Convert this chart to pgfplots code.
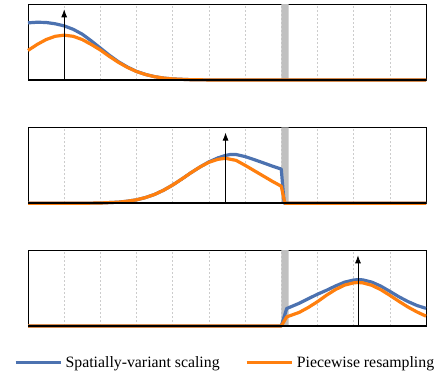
\documentclass[border=0pt]{standalone}
\usepackage{pgfplots}
\pgfplotsset{compat=1.18}
\usepackage{fontspec}
\setmainfont{Liberation Serif}
\usetikzlibrary{arrows.meta}
\definecolor{cblue}{HTML}{4C72B0}
\definecolor{corange}{HTML}{FF7F0E}
\definecolor{band}{HTML}{C0C0C0}
\pgfplotsset{
  panel/.style={
    scale only axis, width=398pt, height=76pt,
    xmin=0, xmax=11, ymin=0, ymax=1,
    xtick={1,...,10}, xticklabels={}, ytick=\empty,
    major tick length=0pt,
    xmajorgrids, major grid style={gray!40, dash pattern=on 2pt off 2pt, line width=0.6pt},
    axis line style={black, line width=0.8pt},
    clip=false, anchor=north west,
  },
  bl/.style={cblue, line width=3.2pt, line join=round},
  og/.style={corange, line width=3.2pt, line join=round},
  arr/.style={black, line width=0.8pt, -{Latex[length=8pt,width=6pt]}},
  bnd/.style={fill=band, draw=none, forget plot},
  base/.style={black, line width=2pt, forget plot},
}
\begin{document}
\begin{tikzpicture}
\useasboundingbox (0pt,0pt) rectangle (438pt,-376pt);
% panel 1
\begin{axis}[panel, at={(28pt,-4pt)}]
\addplot[bnd] coordinates {(7,0) (7,1) (7.2,1) (7.2,0)} \closedcycle;
\addplot[bl, forget plot] coordinates {(0,0.752) (0.25,0.76) (0.5,0.757) (0.75,0.74) (1,0.712) (1.25,0.667) (1.5,0.603) (1.75,0.515) (2,0.42) (2.25,0.325) (2.5,0.24) (2.75,0.17) (3,0.113) (3.25,0.073) (3.5,0.044) (3.75,0.025) (4,0.014) (4.5,0.004) (5,0.001) (6,0) (11,0)};
\addplot[og, forget plot] coordinates {(0,0.389) (0.25,0.467) (0.5,0.532) (0.75,0.575) (1,0.59) (1.25,0.575) (1.5,0.532) (1.75,0.467) (2,0.395) (2.25,0.31) (2.5,0.232) (2.75,0.165) (3,0.111) (3.25,0.072) (3.5,0.044) (3.75,0.025) (4,0.014) (4.5,0.004) (5,0.001) (6,0) (11,0)};
\addplot[base] coordinates {(0,0) (11,0)};
\addplot[arr, forget plot] coordinates {(1,0) (1,0.93)};
\end{axis}
% panel 2
\begin{axis}[panel, at={(28pt,-127.3pt)}]
\addplot[bnd] coordinates {(7,0) (7,1) (7.2,1) (7.2,0)} \closedcycle;
\addplot[bl, forget plot] coordinates {(0,0) (1,0.0001) (1.5,0.0008) (2,0.004) (2.5,0.015) (2.75,0.028) (3,0.046) (3.25,0.076) (3.5,0.117) (3.75,0.173) (4,0.241) (4.25,0.319) (4.5,0.401) (4.75,0.477) (5,0.545) (5.25,0.598) (5.46,0.63) (5.6,0.643) (5.75,0.642) (6,0.615) (6.25,0.575) (6.5,0.533) (6.75,0.49) (7,0.45) (7.08,0) (11,0)};
\addplot[og, forget plot] coordinates {(0,0) (1,0.0001) (1.5,0.0008) (2,0.004) (2.5,0.015) (2.75,0.028) (3,0.046) (3.25,0.076) (3.5,0.117) (3.75,0.173) (4,0.241) (4.25,0.319) (4.5,0.401) (4.75,0.477) (5,0.54) (5.25,0.579) (5.46,0.592) (5.75,0.565) (6,0.5) (6.25,0.43) (6.5,0.36) (6.75,0.29) (7,0.225) (7.1,0) (11,0)};
\addplot[base] coordinates {(0,0) (11,0)};
\addplot[arr, forget plot] coordinates {(5.46,0) (5.46,0.93)};
\end{axis}
% panel 3
\begin{axis}[panel, at={(28pt,-250pt)},
  legend style={at={(0.497,-0.48)}, anchor=center, draw=none, fill=none,
    font=\fontsize{15.8}{18}\selectfont, inner sep=0pt,
    /tikz/every even column/.append style={column sep=22pt},
    nodes={inner xsep=3.5pt}},
  legend columns=2,
  legend image code/.code={\draw[#1] (0pt,0pt) -- (45pt,0pt);}]
\addplot[bnd] coordinates {(7,0) (7,1) (7.2,1) (7.2,0)} \closedcycle;
\addplot[bl] coordinates {(0,0) (7,0) (7.15,0.23) (7.5,0.3) (7.75,0.36) (8,0.418) (8.25,0.47) (8.5,0.527) (8.75,0.577) (9,0.605) (9.12,0.61) (9.25,0.607) (9.5,0.578) (9.75,0.525) (10,0.456) (10.25,0.385) (10.5,0.322) (10.75,0.27) (11,0.232)};
\addlegendentry{Spatially-variant scaling}
\addplot[og] coordinates {(0,0) (7,0) (7.15,0.12) (7.5,0.18) (7.75,0.245) (8,0.32) (8.25,0.405) (8.5,0.48) (8.75,0.538) (9,0.568) (9.12,0.572) (9.25,0.568) (9.5,0.536) (9.75,0.478) (10,0.404) (10.25,0.325) (10.5,0.25) (10.75,0.185) (11,0.13)};
\addlegendentry{Piecewise resampling}
\addplot[base] coordinates {(0,0) (11,0)};
\addplot[arr, forget plot] coordinates {(9.12,0) (9.12,0.93)};
\end{axis}
\end{tikzpicture}
\end{document}
